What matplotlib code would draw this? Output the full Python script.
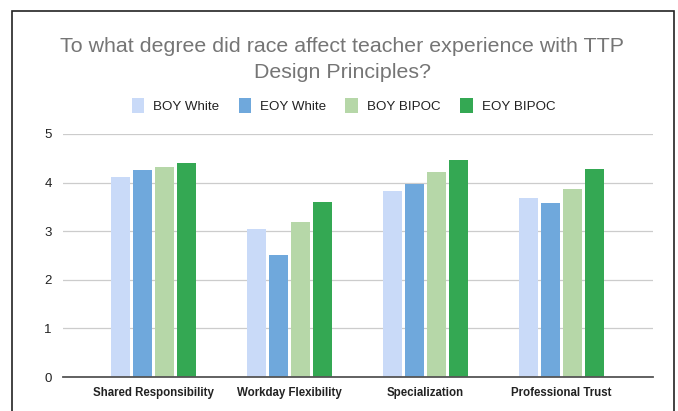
import matplotlib
matplotlib.use('Agg')
import matplotlib.pyplot as plt
import numpy as np
from matplotlib.patches import Rectangle

plt.rcParams['font.family'] = ['Liberation Sans', 'DejaVu Sans']

# data
categories = ['Shared Responsibility', 'Workday Flexibility', 'Specialization', 'Professional Trust']
series_names = ['BOY White', 'EOY White', 'BOY BIPOC', 'EOY BIPOC']
boy_white = [4.12, 3.04, 3.83, 3.69]
eoy_white = [4.25, 2.50, 3.98, 3.57]
boy_bipoc = [4.32, 3.19, 4.22, 3.87]
eoy_bipoc = [4.41, 3.60, 4.46, 4.29]
y_ticks = [0, 1, 2, 3, 4, 5]

colors = ['#c9daf8', '#6fa8dc', '#b6d7a8', '#34a853']
series = [boy_white, eoy_white, boy_bipoc, eoy_bipoc]

W, H = 678, 411
fig = plt.figure(figsize=(W / 100, H / 100), dpi=100)
ax = fig.add_axes([63 / W, 1 - 377 / H, (653 - 63) / W, (377 - 134) / H])

# frame around the whole chart
fig.patches.append(Rectangle((12 / W, -0.1), (674 - 12) / W, 1.1 - 11 / H,
                             transform=fig.transFigure, fill=False,
                             edgecolor='#222222', linewidth=1.2, zorder=0))

x = np.arange(len(categories))
pitch = 0.1618
bw = 0.1434
handles = []
for i, (vals, c, name) in enumerate(zip(series, colors, series_names)):
    b = ax.bar(x + (i - 1.5) * pitch, vals, width=bw, color=c, label=name, zorder=3)
    handles.append(b)

ax.set_xlim(-0.664, 3.674)
ax.set_ylim(0, 5)
ax.set_yticks(y_ticks)
ax.yaxis.grid(True, color='#cccccc', linewidth=0.9, zorder=0)
ax.set_axisbelow(True)
for s in ['top', 'right', 'left']:
    ax.spines[s].set_visible(False)
ax.spines['bottom'].set_color('#555555')
ax.spines['bottom'].set_linewidth(1.3)
ax.spines['bottom'].set_zorder(4)
ax.tick_params(axis='y', length=0, pad=8, labelsize=9.5, labelcolor='#222222')
ax.tick_params(axis='x', length=0, pad=7, labelsize=8.3, labelcolor='#222222')
ax.set_xticks(x)
ax.set_xticklabels(categories, fontweight='bold')

# title, two lines
fig.text(342 / W, 1 - 52.5 / H, 'To what degree did race affect teacher experience with TTP',
         ha='center', va='baseline', fontsize=15.4, color='#757575')
fig.text(342 / W, 1 - 78 / H, 'Design Principles?',
         ha='center', va='baseline', fontsize=15.4, color='#757575')

fig.legend(handles=handles, loc='center', bbox_to_anchor=(343.5 / W, 1 - 105.5 / H),
           ncol=4, frameon=False, fontsize=9.6, handlelength=0.96, handleheight=1.3,
           handletextpad=0.68, columnspacing=1.42, labelcolor='#222222')

fig.savefig('out.png', dpi=100)
